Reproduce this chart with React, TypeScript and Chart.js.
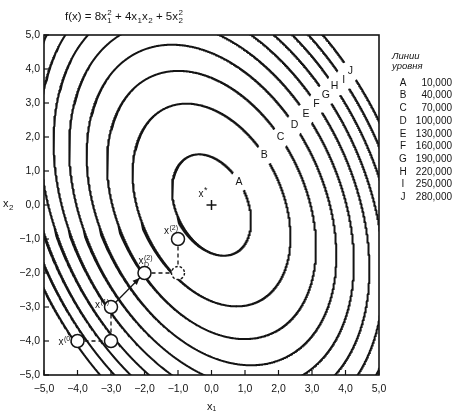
import React, { useEffect, useRef } from "react";
import { Chart, registerables } from "chart.js";

Chart.register(...registerables);

// f(x) = a·x1² + b·x1·x2 + c·x2²
const fCoefficients = [8, 4, 5];
const levelLetters = ["A", "B", "C", "D", "E", "F", "G", "H", "I", "J"];
const levelValues = [10, 40, 70, 100, 130, 160, 190, 220, 250, 280];
const levelLabelAngleDeg = [40, 43, 44, 43.5, 43.5, 43.5, 43.5, 43.5, 43, 43.5];
const axisTicks = [-5, -4, -3, -2, -1, 0, 1, 2, 3, 4, 5];
const pathX1 = [-4, -3, -3, -2, -1, -1];
const pathX2 = [-4, -4, -3, -2, -2, -1];
const pathLabelSub = ["", "", "", "D", "", ""];
const pathLabelSup = ["(0)", "", "(1)", "(2)", "", "(2)"];
const pathTrial = [false, false, false, false, true, false];
const optimumX1 = [0];
const optimumX2 = [0];

const FONT = "'Liberation Sans', 'DejaVu Sans', sans-serif";

function ellipseRadius(level: number, t: number) {
  const [a, b, c] = fCoefficients;
  const co = Math.cos(t);
  const si = Math.sin(t);
  return Math.sqrt(level / (a * co * co + b * co * si + c * si * si));
}

function buildContour(level: number, angleDeg: number) {
  const t0 = (angleDeg * Math.PI) / 180;
  const r0 = ellipseRadius(level, t0);
  const lx = r0 * Math.cos(t0);
  const ly = r0 * Math.sin(t0);
  const pts: { x: number; y: number }[] = [];
  const N = 1440;
  for (let i = 0; i <= N; i++) {
    const t = t0 + (2 * Math.PI * i) / N;
    const r = ellipseRadius(level, t);
    const x = r * Math.cos(t);
    const y = r * Math.sin(t);
    if (Math.hypot((x - lx) * 33.5, (y - ly) * 34) < 10) continue;
    pts.push({ x, y });
  }
  return { pts, label: { x: lx, y: ly } };
}

type Part = { t: string; sub?: string; sup?: string };

function drawRich(ctx: CanvasRenderingContext2D, x: number, y: number, parts: Part[], size: number, small: number) {
  ctx.textAlign = "left";
  ctx.textBaseline = "alphabetic";
  let cx = x;
  for (const p of parts) {
    ctx.font = `${size}px ${FONT}`;
    ctx.fillText(p.t, cx, y);
    cx += ctx.measureText(p.t).width;
    ctx.font = `${small}px ${FONT}`;
    let adv = 0;
    if (p.sub) {
      ctx.fillText(p.sub, cx + 0.5, y + size * 0.3);
      adv = Math.max(adv, ctx.measureText(p.sub).width + 0.5);
    }
    if (p.sup) {
      ctx.fillText(p.sup, cx + 0.5, y - size * 0.45);
      adv = Math.max(adv, ctx.measureText(p.sup).width + 0.5);
    }
    cx += adv;
  }
}

function fmtTick(v: number) {
  return v.toFixed(1).replace(".", ",").replace("-", "−");
}

export default function App() {
  const canvasRef = useRef<HTMLCanvasElement | null>(null);

  useEffect(() => {
    const canvas = canvasRef.current;
    if (!canvas) return;
    const contours = levelValues.map((lv, i) => buildContour(lv, levelLabelAngleDeg[i]));
    const pathData = pathX1.map((x, i) => ({ x, y: pathX2[i] }));
    const ink = "#141414";

    // offsets of the point labels (px, relative to the point): [left, baseline]
    const labelOffsets: Record<number, [number, number]> = {
      0: [-19, 4],
      2: [-16, 1],
      3: [-6, -9],
      5: [-14, -5],
    };

    const overlay = {
      id: "overlay",
      beforeDraw(chart: any) {
        const c = chart.ctx as CanvasRenderingContext2D;
        c.save();
        c.fillStyle = "#ffffff";
        c.fillRect(0, 0, chart.width, chart.height);
        c.restore();
      },
      afterDatasetsDraw(chart: any) {
        const c = chart.ctx as CanvasRenderingContext2D;
        const ca = chart.chartArea;
        const xs = chart.scales.x;
        const ys = chart.scales.y;
        const px = (v: number) => xs.getPixelForValue(v);
        const py = (v: number) => ys.getPixelForValue(v);
        c.save();
        c.strokeStyle = ink;
        c.fillStyle = ink;

        // frame
        c.lineWidth = 1.6;
        c.strokeRect(ca.left, ca.top, ca.right - ca.left, ca.bottom - ca.top);

        // inward ticks
        c.lineWidth = 1.2;
        axisTicks.forEach((v) => {
          const X = px(v);
          c.beginPath();
          c.moveTo(X, ca.bottom);
          c.lineTo(X, ca.bottom - 5);
          c.stroke();
          const Y = py(v);
          c.beginPath();
          c.moveTo(ca.left, Y);
          c.lineTo(ca.left + 5, Y);
          c.stroke();
        });

        // level letters on the contours
        c.font = `10.5px ${FONT}`;
        c.textAlign = "center";
        c.textBaseline = "middle";
        contours.forEach((ct, i) => {
          c.fillText(levelLetters[i], px(ct.label.x), py(ct.label.y));
        });

        // optimum cross and x*
        const ox = px(optimumX1[0]);
        const oy = py(optimumX2[0]);
        c.lineWidth = 1.5;
        c.beginPath();
        c.moveTo(ox - 5, oy);
        c.lineTo(ox + 5, oy);
        c.moveTo(ox, oy - 5);
        c.lineTo(ox, oy + 5);
        c.stroke();
        drawRich(c, ox - 13, oy - 8, [{ t: "x", sup: "*" }], 10, 9);

        // dashed trial circle
        pathTrial.forEach((tr, i) => {
          if (!tr) return;
          c.save();
          c.setLineDash([2.5, 2]);
          c.lineWidth = 1.4;
          c.fillStyle = "#fff";
          c.beginPath();
          c.arc(px(pathX1[i]), py(pathX2[i]), 6.5, 0, Math.PI * 2);
          c.fill();
          c.stroke();
          c.restore();
        });

        // arrowhead on the solid step
        const ax0 = px(pathX1[2]);
        const ay0 = py(pathX2[2]);
        const ax1 = px(pathX1[3]);
        const ay1 = py(pathX2[3]);
        const len = Math.hypot(ax1 - ax0, ay1 - ay0);
        const ux = (ax1 - ax0) / len;
        const uy = (ay1 - ay0) / len;
        const tipX = ax1 - ux * 7;
        const tipY = ay1 - uy * 7;
        c.beginPath();
        c.moveTo(tipX, tipY);
        c.lineTo(tipX - ux * 7 - uy * 3, tipY - uy * 7 + ux * 3);
        c.lineTo(tipX - ux * 7 + uy * 3, tipY - uy * 7 - ux * 3);
        c.closePath();
        c.fill();

        // point labels
        pathX1.forEach((x, i) => {
          const off = labelOffsets[i];
          if (!off || (!pathLabelSub[i] && !pathLabelSup[i])) return;
          drawRich(
            c,
            px(x) + off[0],
            py(pathX2[i]) + off[1],
            [{ t: "x", sub: pathLabelSub[i] || undefined, sup: pathLabelSup[i] || undefined }],
            10,
            7
          );
        });

        // title
        drawRich(
          c,
          65,
          20,
          [
            { t: "f(x) = 8x", sub: "1", sup: "2" },
            { t: " + 4x", sub: "1" },
            { t: "x", sub: "2" },
            { t: " + 5x", sub: "2", sup: "2" },
          ],
          11.5,
          8
        );

        // x2 axis title (horizontal)
        drawRich(c, 3, 207, [{ t: "x", sub: "2" }], 11, 8);

        // legend of level lines
        c.font = `italic 9.5px ${FONT}`;
        c.textAlign = "left";
        c.textBaseline = "alphabetic";
        c.fillText("Линии", 392, 59);
        c.fillText("уровня", 392, 69);
        c.font = `10px ${FONT}`;
        c.textBaseline = "middle";
        levelLetters.forEach((l, i) => {
          const y = 83 + 12.7 * i;
          c.textAlign = "center";
          c.fillText(l, 403, y);
          c.textAlign = "right";
          c.fillText(levelValues[i].toFixed(3).replace(".", ","), 452, y);
        });

        c.restore();
      },
    };

    const chart = new Chart(canvas, {
      type: "scatter",
      data: {
        datasets: [
          {
            label: "points",
            data: pathData,
            showLine: false,
            pointRadius: pathTrial.map((t) => (t ? 0 : 6.5)),
            pointBackgroundColor: "#ffffff",
            pointBorderColor: ink,
            pointBorderWidth: 1.5,
          } as any,
          {
            label: "path",
            data: pathData,
            showLine: true,
            pointRadius: 0,
            borderColor: ink,
            borderWidth: 1.3,
            borderDash: [4, 3],
            segment: {
              borderDash: (ctx: any) => (ctx.p0DataIndex === 2 ? [] : [4, 3]),
            },
          } as any,
          ...contours.map((ct, i) => ({
            label: levelLetters[i],
            data: ct.pts,
            showLine: true,
            pointRadius: 0,
            borderColor: ink,
            borderWidth: 2,
            tension: 0,
          })),
        ],
      },
      options: {
        animation: false,
        responsive: true,
        maintainAspectRatio: false,
        events: [],
        layout: { padding: { left: 0, right: 84, top: 35, bottom: 2 } },
        plugins: {
          legend: { display: false },
          tooltip: { enabled: false },
          title: { display: false },
        },
        scales: {
          x: {
            type: "linear",
            min: -5,
            max: 5,
            afterFit: (s: any) => {
              s.height = 43;
            },
            afterBuildTicks: (s: any) => {
              s.ticks = axisTicks.map((v) => ({ value: v }));
            },
            grid: { display: false, drawTicks: false },
            border: { display: false },
            ticks: {
              autoSkip: false,
              maxRotation: 0,
              padding: 8,
              color: ink,
              font: { family: FONT, size: 10.5 },
              callback: (v: any) => fmtTick(Number(v)),
            },
            title: {
              display: true,
              text: "x₁",
              color: ink,
              font: { family: FONT, size: 11 },
            },
          },
          y: {
            type: "linear",
            min: -5,
            max: 5,
            afterFit: (s: any) => {
              s.width = 44;
            },
            afterBuildTicks: (s: any) => {
              s.ticks = axisTicks.map((v) => ({ value: v }));
            },
            grid: { display: false, drawTicks: false },
            border: { display: false },
            ticks: {
              autoSkip: false,
              padding: 4,
              color: ink,
              font: { family: FONT, size: 10.5 },
              callback: (v: any) => fmtTick(Number(v)),
            },
          },
        },
      },
      plugins: [overlay],
    } as any);

    return () => chart.destroy();
  }, []);

  return (
    <div style={{ position: "fixed", left: 0, top: 0, width: 463, height: 420, background: "#fff" }}>
      <canvas ref={canvasRef} />
    </div>
  );
}
